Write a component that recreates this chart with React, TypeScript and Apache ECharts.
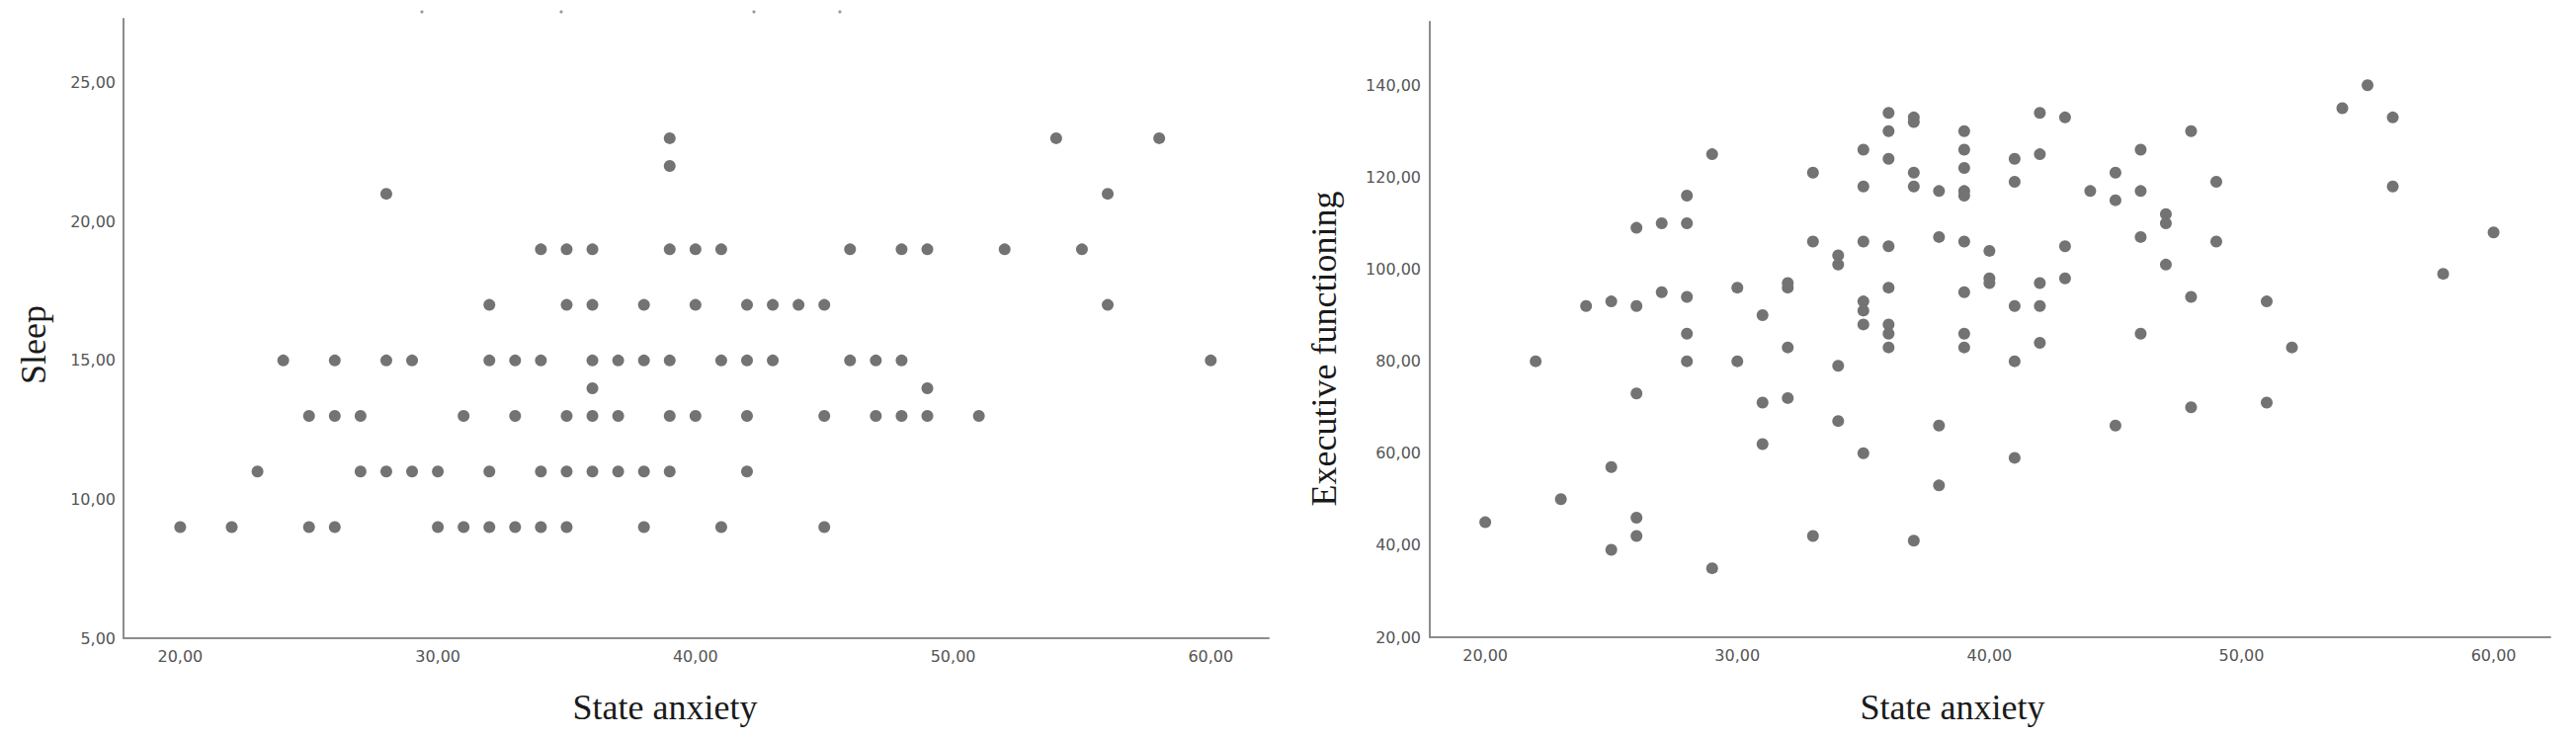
import React, { useEffect, useRef } from "react";
import * as echarts from "echarts";

// ---- Left panel: State anxiety (x) vs Sleep (y) ----
const sleepAnxiety: number[] = [
  20, 22, 25, 26, 30, 31, 32, 33, 34, 35, 38, 41, 45,
  23, 27, 28, 29, 30, 32, 34, 35, 36, 37, 38, 39, 42,
  25, 26, 27, 31, 33, 35, 36, 37, 39, 40, 42, 45, 47, 48, 49, 51,
  36, 49,
  24, 26, 28, 29, 32, 33, 34, 36, 37, 38, 39, 41, 42, 43, 46, 47, 48, 60,
  32, 35, 36, 38, 40, 42, 43, 44, 45, 56,
  34, 35, 36, 39, 40, 41, 46, 48, 49, 52, 55,
  28, 56,
  39,
  39, 54, 58,
];
const sleepScore: number[] = [
  9, 9, 9, 9, 9, 9, 9, 9, 9, 9, 9, 9, 9,
  11, 11, 11, 11, 11, 11, 11, 11, 11, 11, 11, 11, 11,
  13, 13, 13, 13, 13, 13, 13, 13, 13, 13, 13, 13, 13, 13, 13, 13,
  14, 14,
  15, 15, 15, 15, 15, 15, 15, 15, 15, 15, 15, 15, 15, 15, 15, 15, 15, 15,
  17, 17, 17, 17, 17, 17, 17, 17, 17, 17,
  19, 19, 19, 19, 19, 19, 19, 19, 19, 19, 19,
  21, 21,
  22,
  23, 23, 23,
];

// ---- Right panel: State anxiety (x) vs Executive functioning (y) ----
const execAnxiety: number[] = [
  20, 22, 23, 24, 25, 25, 25, 26, 26, 26, 26, 26, 27, 27,
  28, 28, 28, 28, 28, 29, 29, 30, 30, 31, 31, 31, 32, 32, 32, 32,
  33, 33, 33, 34, 34, 34, 34, 35, 35, 35, 35, 35, 35, 35,
  36, 36, 36, 36, 36, 36, 36, 36, 37, 37, 37, 37, 37, 38, 38, 38, 38,
  39, 39, 39, 39, 39, 39, 39, 39, 39, 40, 40, 40,
  41, 41, 41, 41, 41, 42, 42, 42, 42, 42, 43, 43, 43, 44,
  45, 45, 45, 46, 46, 46, 46, 47, 47, 47, 48, 48, 48, 49, 49,
  51, 51, 52, 54, 55, 56, 56, 58, 60,
];
const execFunctioning: number[] = [
  45, 80, 50, 92, 93, 57, 39, 109, 92, 73, 46, 42, 110, 95,
  116, 110, 94, 86, 80, 125, 35, 96, 80, 90, 71, 62, 97, 96, 83, 72,
  121, 106, 42, 103, 101, 79, 67, 126, 118, 106, 93, 91, 88, 60,
  134, 130, 124, 105, 96, 88, 86, 83, 133, 132, 121, 118, 41, 117, 107, 66, 53,
  130, 126, 122, 117, 116, 106, 95, 86, 83, 104, 98, 97,
  124, 119, 92, 80, 59, 134, 125, 97, 92, 84, 133, 105, 98, 117,
  121, 115, 66, 126, 117, 107, 86, 112, 110, 101, 130, 94, 70, 119, 106,
  93, 71, 83, 135, 140, 133, 118, 99, 108,
];

const xTicks: number[] = [20, 30, 40, 50, 60];
const sleepTicks: number[] = [5, 10, 15, 20, 25];
const execTicks: number[] = [20, 40, 60, 80, 100, 120, 140];

const fmt = (v: number) => Number(v).toFixed(2).replace(".", ",");

const TICK_FONT = '"DejaVu Sans", sans-serif';
const TITLE_FONT = '36px "Liberation Serif", "Times New Roman", serif';

function makeXAxis(gridIndex: number) {
  return {
    type: "value",
    gridIndex,
    min: 17.8,
    max: 62.25,
    axisLine: { show: true, onZero: false, lineStyle: { color: "#8c8c8c", width: 2 } },
    axisTick: { show: false },
    splitLine: { show: false },
    axisLabel: {
      customValues: xTicks,
      formatter: fmt,
      color: "#555",
      fontFamily: TICK_FONT,
      fontSize: 16,
      margin: 10,
    },
  };
}

function makeYAxis(gridIndex: number, min: number, max: number, ticks: number[], margin: number) {
  return {
    type: "value",
    gridIndex,
    min,
    max,
    axisLine: { show: true, onZero: false, lineStyle: { color: "#8c8c8c", width: 2 } },
    axisTick: { show: false },
    splitLine: { show: false },
    axisLabel: {
      customValues: ticks,
      formatter: fmt,
      color: "#555",
      fontFamily: TICK_FONT,
      fontSize: 16,
      margin,
    },
  };
}

function titleText(text: string, x: number, y: number, rotate: boolean) {
  return {
    type: "text",
    x,
    y,
    rotation: rotate ? Math.PI / 2 : 0,
    silent: true,
    style: {
      text,
      font: TITLE_FONT,
      fill: "#1a1a1a",
      align: "center",
      verticalAlign: "middle",
      textAlign: "center",
      textVerticalAlign: "middle",
    },
  };
}

function speck(cx: number, cy: number) {
  return { type: "circle", silent: true, shape: { cx, cy, r: 1.6 }, style: { fill: "#9a9a9a" } };
}

export default function App() {
  const ref = useRef<HTMLDivElement>(null);

  useEffect(() => {
    if (!ref.current) return;
    const chart = echarts.init(ref.current, undefined, { renderer: "svg" });
    const leftData = sleepAnxiety.map((x, i) => [x, sleepScore[i]]);
    const rightData = execAnxiety.map((x, i) => [x, execFunctioning[i]]);

    chart.setOption({
      animation: false,
      backgroundColor: "#ffffff",
      grid: [
        { left: 125, top: 19, width: 1159, height: 627 },
        { left: 1447, top: 22, width: 1134, height: 623 },
      ],
      xAxis: [makeXAxis(0), makeXAxis(1)],
      yAxis: [
        makeYAxis(0, 5, 27.3, sleepTicks, 8),
        makeYAxis(1, 20, 153.8, execTicks, 9),
      ],
      series: [
        {
          type: "scatter",
          xAxisIndex: 0,
          yAxisIndex: 0,
          data: leftData,
          symbol: "circle",
          symbolSize: 12,
          itemStyle: { color: "#737373", opacity: 1 },
        },
        {
          type: "scatter",
          xAxisIndex: 1,
          yAxisIndex: 1,
          data: rightData,
          symbol: "circle",
          symbolSize: 12,
          itemStyle: { color: "#737373", opacity: 1 },
        },
      ],
      graphic: [
        titleText("Sleep", 34, 349, true),
        titleText("State anxiety", 673, 716, false),
        titleText("Executive functioning", 1340, 353, true),
        titleText("State anxiety", 1976, 716, false),
        speck(427, 12),
        speck(568, 12),
        speck(763, 12),
        speck(850, 12),
      ],
    });

    return () => {
      chart.dispose();
    };
  }, []);

  return (
    <div
      ref={ref}
      style={{ position: "absolute", left: 0, top: 0, width: 2607, height: 748, background: "#fff" }}
    />
  );
}
